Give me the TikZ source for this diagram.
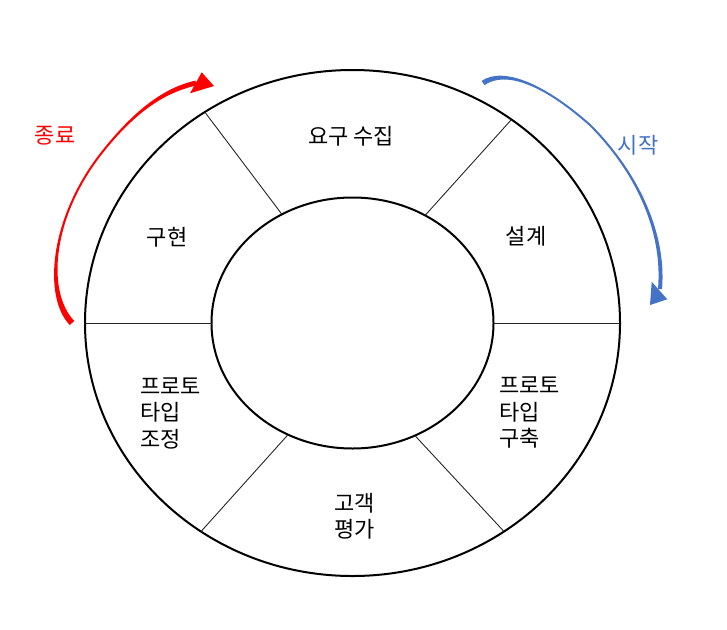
\documentclass[tikz,border=0pt]{standalone}
\usepackage{fontspec}
\newfontfamily\kr{Noto Sans CJK KR}
\usetikzlibrary{shapes.geometric}
\definecolor{endred}{RGB}{255,0,0}
\definecolor{startblue}{RGB}{68,114,196}

\begin{document}
\begin{tikzpicture}[x=1pt, y=-1pt,
    ring/.style={ellipse, draw, line width=2pt, inner sep=0pt, outer sep=0pt},
    divline/.style={line width=0.9pt, black!85},
    stage/.style={font=\fontsize{22}{26.5}\selectfont\kr, inner sep=0pt, align=left},
    flow/.style={font=\fontsize{22}{26.5}\selectfont\kr, inner sep=0pt}]
    \useasboundingbox (0,0) rectangle (727,629);

    % rings
    \node[ring, minimum width=535pt, minimum height=506pt] (outer) at (352.5,323) {};
    \node[ring, minimum width=282pt, minimum height=251pt] (inner) at (352.5,323) {};

    % dividers
    \draw[divline] (outer.west) -- (inner.west);
    \draw[divline] (inner.east) -- (outer.east);
    \draw[divline] (outer.125) -- (inner.123);
    \draw[divline] (outer.52) -- (inner.56);
    \draw[divline] (outer.234) -- (inner.240);
    \draw[divline] (outer.306) -- (inner.299);

    % stages
    \node[stage] (req) at (351,136) {요구 수집};
    \node[stage] (design) at (526,236) {설계};
    \node[stage] (impl) at (167,237) {구현};
    \node[stage, anchor=west] (build) at (499,413) {프로토\\타입\\구축};
    \node[stage, anchor=west] (adjust) at (140,413) {프로토\\타입\\조정};
    \node[stage, anchor=west] (review) at (334,516.5) {고객\\평가};

    \node[flow, text=endred] (finish) at (55,136) {종료};
    \node[flow, text=startblue] (start) at (638,145) {시작};

    % curved arrows
    \fill[endred] (74.2,320.9) .. controls (47.2,292.9) and (50.8,220.6) .. (100.8,155.6)
        .. controls (135.8,110.6) and (165.6,92.4) .. (196.6,85.4) -- (195.4,80.6)
        .. controls (164.4,87.6) and (134.2,109.4) .. (99.2,154.4)
        .. controls (49.2,219.4) and (42.8,297.1) .. (69.8,325.1) -- cycle;
    \fill[endred] (201.7,72.3) -- (214,86) -- (190,93.3) -- cycle;

    \fill[startblue] (484.4,85.1) .. controls (506.4,70.1) and (544.3,85.7) .. (589.3,125.7)
        .. controls (634.3,170.7) and (663,229.8) .. (658,288.8) -- (662,289.2)
        .. controls (667,230.2) and (635.7,169.3) .. (590.7,124.3)
        .. controls (545.7,84.3) and (503.6,65.9) .. (481.6,80.9) -- cycle;
    \fill[startblue] (651.7,281.7) -- (667.3,299.3) -- (650,305) -- cycle;
\end{tikzpicture}
\end{document}
